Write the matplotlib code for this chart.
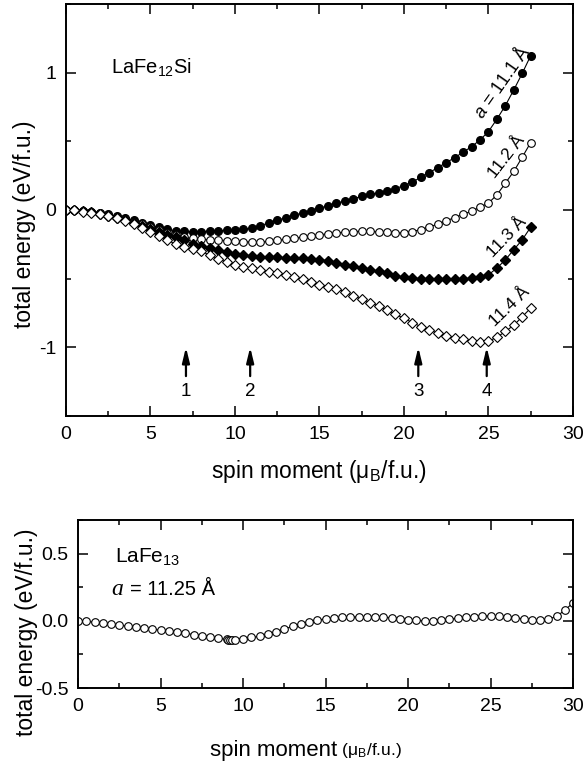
import numpy as np
import matplotlib
matplotlib.use("Agg")
import matplotlib.pyplot as plt
from matplotlib.ticker import MultipleLocator, FormatStrFormatter

plt.rcParams['font.family'] = ['Liberation Sans', 'DejaVu Sans']
plt.rcParams['mathtext.fontset'] = 'custom'
plt.rcParams['mathtext.rm'] = 'Liberation Sans'
plt.rcParams['mathtext.it'] = 'Liberation Sans:italic'
plt.rcParams['axes.unicode_minus'] = False

# ---- top panel: LaFe12Si, spin moment step 0.5 from 0 to 27.5
spin = np.arange(0, 27.51, 0.5)
e_111 = [0.000, 0.000, -0.005, -0.012, -0.020, -0.032, -0.045, -0.060, -0.075, -0.092,
         -0.110, -0.128, -0.142, -0.152, -0.157, -0.158, -0.158, -0.155, -0.152, -0.149,
         -0.146, -0.141, -0.133, -0.115, -0.095, -0.075, -0.058, -0.040, -0.022, -0.005,
         0.012, 0.030, 0.048, 0.065, 0.082, 0.098, 0.112, 0.125, 0.138, 0.155,
         0.177, 0.202, 0.238, 0.271, 0.308, 0.344, 0.380, 0.420, 0.460, 0.509,
         0.570, 0.660, 0.759, 0.873, 0.994, 1.122]
e_112 = [0.000, 0.000, -0.006, -0.014, -0.024, -0.036, -0.050, -0.066, -0.085, -0.105,
         -0.125, -0.145, -0.165, -0.185, -0.200, -0.208, -0.213, -0.217, -0.220, -0.223,
         -0.226, -0.231, -0.235, -0.234, -0.230, -0.222, -0.215, -0.207, -0.198, -0.190,
         -0.182, -0.174, -0.168, -0.162, -0.158, -0.156, -0.157, -0.160, -0.164, -0.168,
         -0.167, -0.158, -0.143, -0.125, -0.103, -0.080, -0.056, -0.032, -0.010, 0.020,
         0.049, 0.109, 0.194, 0.280, 0.383, 0.490]
e_113 = [0.000, 0.000, -0.008, -0.018, -0.028, -0.042, -0.058, -0.076, -0.095, -0.118,
         -0.140, -0.160, -0.180, -0.200, -0.220, -0.245, -0.265, -0.280, -0.295, -0.310,
         -0.320, -0.328, -0.335, -0.340, -0.343, -0.346, -0.348, -0.350, -0.352, -0.356,
         -0.362, -0.370, -0.385, -0.398, -0.410, -0.422, -0.435, -0.448, -0.463, -0.478,
         -0.490, -0.497, -0.500, -0.500, -0.500, -0.500, -0.500, -0.500, -0.498, -0.490,
         -0.473, -0.424, -0.364, -0.290, -0.218, -0.126]
e_114 = [0.000, 0.000, -0.012, -0.024, -0.032, -0.044, -0.058, -0.080, -0.100, -0.130,
         -0.160, -0.190, -0.220, -0.250, -0.270, -0.285, -0.300, -0.330, -0.355, -0.380,
         -0.400, -0.415, -0.425, -0.437, -0.450, -0.460, -0.475, -0.490, -0.505, -0.525,
         -0.545, -0.560, -0.575, -0.595, -0.625, -0.650, -0.675, -0.700, -0.727, -0.760,
         -0.790, -0.820, -0.850, -0.875, -0.897, -0.915, -0.930, -0.942, -0.955, -0.965,
         -0.955, -0.928, -0.885, -0.840, -0.778, -0.715]

arrow_x = [7.1, 10.9, 20.85, 24.9]
arrow_lbl = ['1', '2', '3', '4']

# ---- bottom panel: LaFe13, a = 11.25 A
spin13 = [0.0, 0.5, 1.0, 1.5, 2.0, 2.5, 3.0, 3.5, 4.0, 4.5, 5.0, 5.5, 6.0, 6.5, 7.0, 7.5,
          8.0, 8.5, 9.0, 9.1, 9.2, 9.3, 9.5, 10.0, 10.5, 11.0, 11.5, 12.0, 12.5, 13.0,
          13.5, 14.0, 14.5, 15.0, 15.5, 16.0, 16.5, 17.0, 17.5, 18.0, 18.5, 19.0, 19.5,
          20.0, 20.5, 21.0, 21.5, 22.0, 22.5, 23.0, 23.5, 24.0, 24.5, 25.0, 25.5, 26.0,
          26.5, 27.0, 27.5, 28.0, 28.5, 29.0, 29.5, 30.0]
e13 = [0.000, -0.004, -0.010, -0.017, -0.024, -0.032, -0.040, -0.047, -0.055, -0.062,
       -0.070, -0.077, -0.084, -0.093, -0.102, -0.112, -0.120, -0.130, -0.138, -0.140,
       -0.141, -0.141, -0.139, -0.132, -0.124, -0.115, -0.098, -0.080, -0.060, -0.042,
       -0.024, -0.006, 0.006, 0.014, 0.020, 0.025, 0.028, 0.030, 0.030, 0.028,
       0.027, 0.022, 0.016, 0.008, 0.003, 0.000, 0.002, 0.007, 0.012, 0.019,
       0.027, 0.032, 0.036, 0.037, 0.033, 0.028, 0.024, 0.014, 0.008, 0.008,
       0.012, 0.034, 0.080, 0.136]

fig = plt.figure(figsize=(5.84, 7.66), dpi=100)
ax1 = fig.add_axes([0.113, 0.457, 0.868, 0.538])
ax2 = fig.add_axes([0.1336, 0.1018, 0.848, 0.2193])

lw = 0.8
ax1.plot(spin, e_111, '-', color='k', lw=lw, marker='o', ms=5.5, mfc='k', mec='k')
ax1.plot(spin, e_112, '-', color='k', lw=lw, marker='o', ms=5.5, mfc='white', mec='k', mew=0.8)
ax1.plot(spin, e_113, '-', color='k', lw=lw, marker='D', ms=4.7, mfc='k', mec='k')
ax1.plot(spin, e_114, '-', color='k', lw=lw, marker='D', ms=4.7, mfc='white', mec='k', mew=0.8)

for xa, lab in zip(arrow_x, arrow_lbl):
    ax1.annotate('', xy=(xa, -1.0), xytext=(xa, -1.21),
                 arrowprops=dict(arrowstyle='-|>,head_length=0.9,head_width=0.22',
                                 color='k', lw=1.6, shrinkA=0, shrinkB=0))
    ax1.text(xa, -1.32, lab, ha='center', va='center', fontsize=13.5)

ax1.text(2.66, 0.995, 'LaFe$_{12}$Si', fontsize=14.5, va='baseline', ha='left')
ax1.text(25.8, 0.93, r'$\mathit{a}$ = 11.1 Å', fontsize=13, rotation=55,
         ha='center', va='center', rotation_mode='anchor')
ax1.text(26.1, 0.385, '11.2 Å', fontsize=12.5, rotation=52, ha='center', va='center',
         rotation_mode='anchor')
ax1.text(26.1, -0.195, '11.3 Å', fontsize=12.5, rotation=46, ha='center', va='center',
         rotation_mode='anchor')
ax1.text(26.27, -0.708, '11.4 Å', fontsize=12.5, rotation=44, ha='center', va='center',
         rotation_mode='anchor')

ax1.set_xlim(0, 30)
ax1.set_ylim(-1.5, 1.5)
ax1.xaxis.set_major_locator(MultipleLocator(5))
ax1.xaxis.set_minor_locator(MultipleLocator(2.5))
ax1.yaxis.set_major_locator(MultipleLocator(1))
ax1.yaxis.set_minor_locator(MultipleLocator(0.5))
ax1.set_xlabel('spin moment (μ$_\\mathrm{B}$/f.u.)', fontsize=16.5, va='center')
ax1.xaxis.set_label_coords(0.5, -0.136)
ax1.set_ylabel('total energy (eV/f.u.)', fontsize=16.5, va='center')
ax1.yaxis.set_label_coords(-0.081, 0.466)

ax2.plot(spin13, e13, '-', color='k', lw=lw, marker='o', ms=5.5, mfc='white', mec='k', mew=0.8)
ax2.text(2.27, 0.43, 'LaFe$_{13}$', fontsize=15, va='baseline', ha='left')
ax2.text(2.04, 0.194, 'a', fontsize=17, va='baseline', ha='left', family='Liberation Serif',
         style='italic')
ax2.text(3.15, 0.194, '= 11.25 Å', fontsize=14.5, va='baseline', ha='left')
ax2.set_xlim(0, 30)
ax2.set_ylim(-0.5, 0.75)
ax2.xaxis.set_major_locator(MultipleLocator(5))
ax2.xaxis.set_minor_locator(MultipleLocator(2.5))
ax2.yaxis.set_major_locator(MultipleLocator(0.5))
ax2.yaxis.set_minor_locator(MultipleLocator(0.25))
ax2.yaxis.set_major_formatter(FormatStrFormatter('%.1f'))
ax2.set_xlabel('spin moment', fontsize=16, va='center')
ax2.xaxis.set_label_coords(0.395, -0.369)
ax2.annotate(' (μ$_\\mathrm{B}$/f.u.)', xy=(1, 0.5), xycoords=ax2.xaxis.label,
             va='center', ha='left', fontsize=12.5)
ax2.set_ylabel('total energy (eV/f.u.)', fontsize=16.5, va='center')
ax2.yaxis.set_label_coords(-0.105, 0.333)

for ax in (ax1, ax2):
    ax.tick_params(which='both', direction='in', top=True, right=True, labelsize=14, pad=7)
    ax.tick_params(which='major', length=7, width=1.1)
    ax.tick_params(which='minor', length=3.5, width=1.1)
    for s in ax.spines.values():
        s.set_linewidth(1.4)

fig.savefig('out.png', dpi=100)
